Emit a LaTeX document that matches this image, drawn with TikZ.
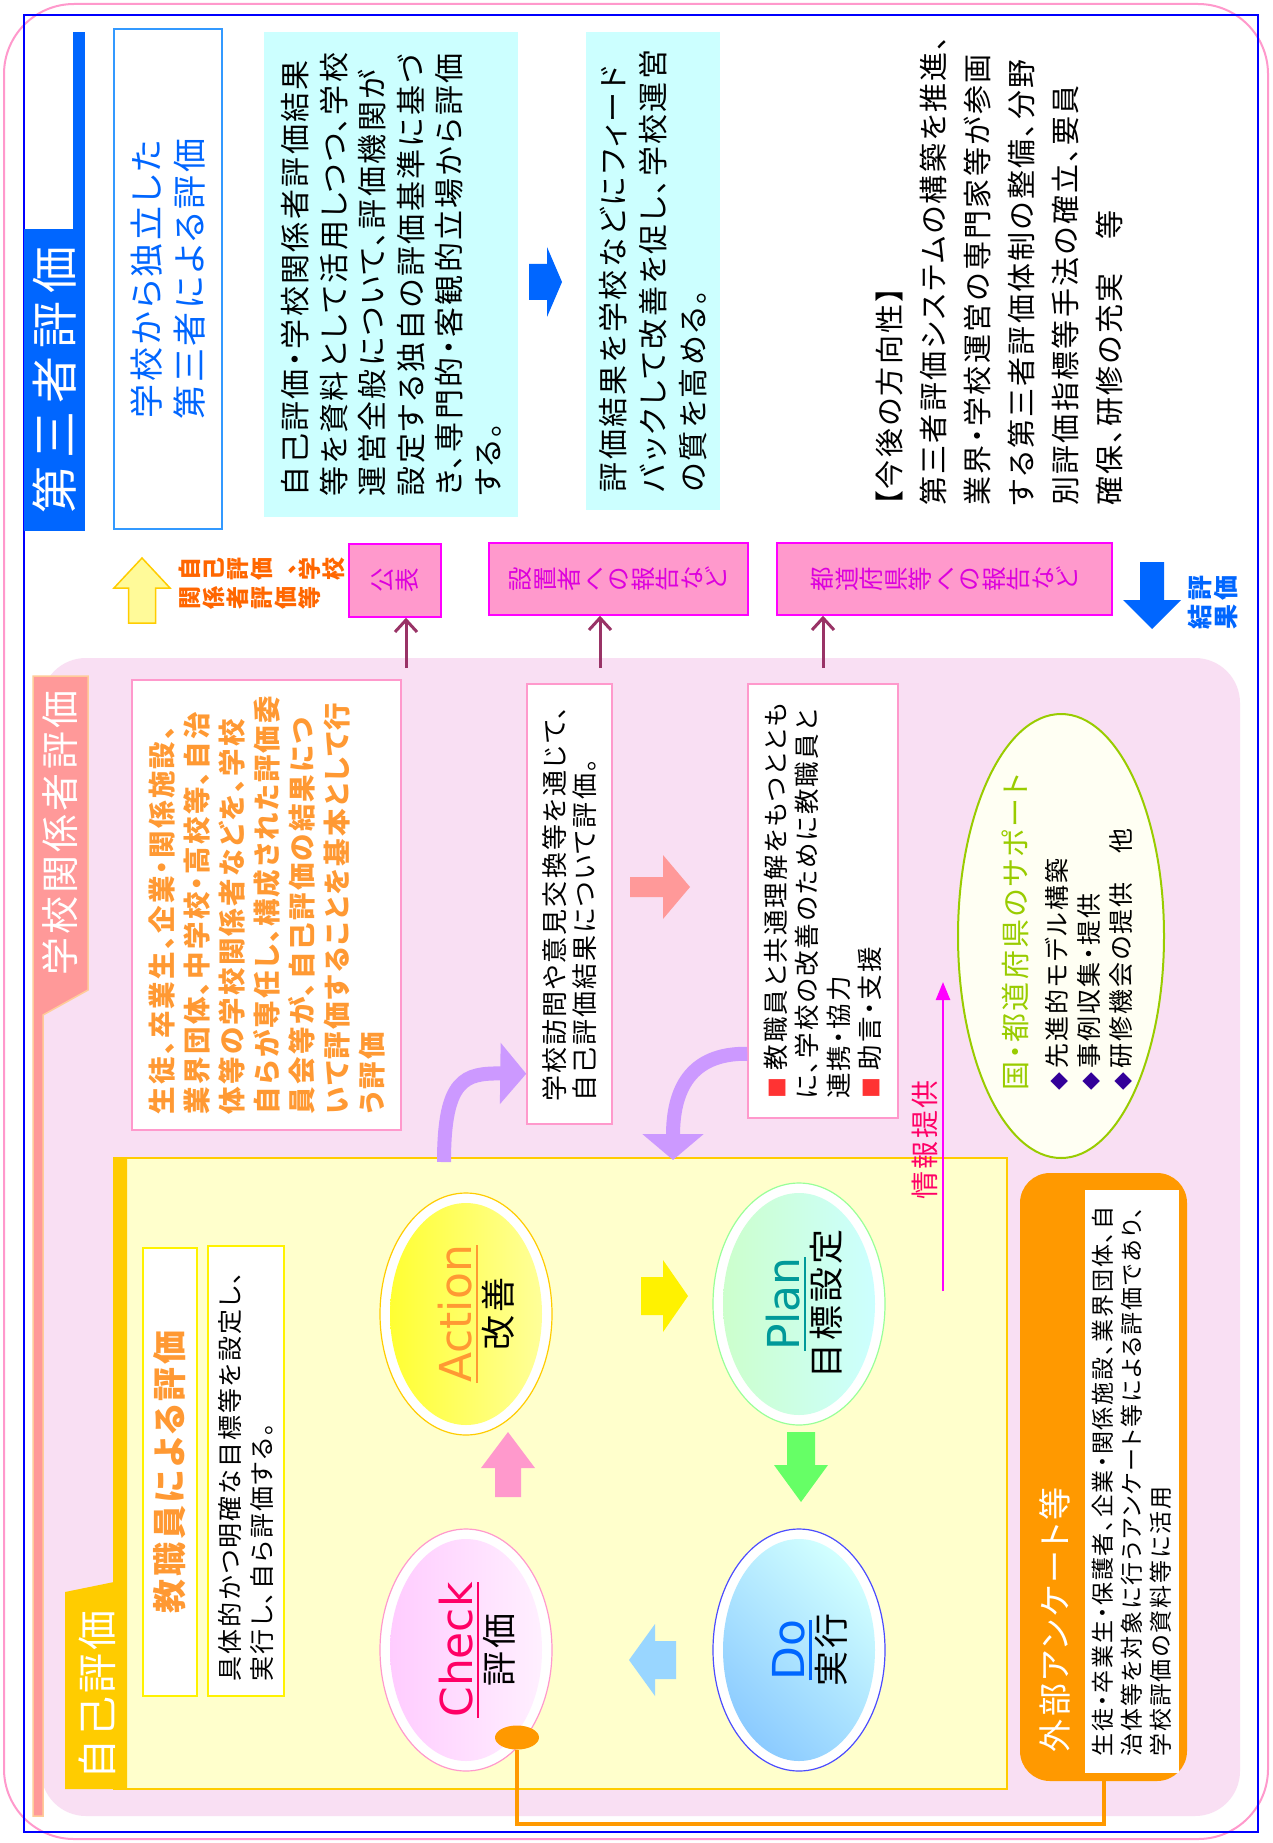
\documentclass[tikz,border=0pt]{standalone}
\usepackage{fontspec}
\setmainfont{Noto Sans CJK JP}[RawFeature=+palt,LetterSpace=8]
\newfontfamily\latinfont{DejaVu Sans}
\usetikzlibrary{shapes.geometric,arrows.meta}

\definecolor{thirdblue}{HTML}{0066FF}
\definecolor{boxblue}{HTML}{3399FF}
\definecolor{cyanfill}{HTML}{CCFFFF}
\definecolor{pubpink}{HTML}{FF99CC}
\definecolor{pubmag}{HTML}{FF00FF}
\definecolor{pubtext}{HTML}{DD00DD}
\definecolor{plum}{HTML}{993366}
\definecolor{zonepink}{HTML}{F9DFF3}
\definecolor{tabsalmon}{HTML}{FF9999}
\definecolor{tabedge}{HTML}{FFCC99}
\definecolor{orangetext}{HTML}{FF9933}
\definecolor{selfyellow}{HTML}{FFFFCC}
\definecolor{gold}{HTML}{FFCC00}
\definecolor{lavender}{HTML}{CC99FF}
\definecolor{supportgreen}{HTML}{99CC00}
\definecolor{ivory}{HTML}{FFFFF3}
\definecolor{deepviolet}{HTML}{330099}
\definecolor{infomag}{HTML}{FF0066}
\definecolor{survey}{HTML}{FF9900}
\definecolor{labelorange}{HTML}{FF6600}
\definecolor{bulletred}{HTML}{FF3333}
\definecolor{actc}{HTML}{FF9933}
\definecolor{planc}{HTML}{009999}
\definecolor{checkc}{HTML}{FF0066}
\definecolor{doc}{HTML}{0066FF}

\newcommand\fsz[2]{\fontsize{#1}{#2}\selectfont}
\newcommand\ulword[1]{\vtop{\hbox{#1}\kern4pt\hrule height 2.5pt}}
\newcommand\gem{{\color{deepviolet}\fsz{18}{18}◆}\hspace{4pt}}
\newcommand\redmark{{\color{bulletred}\fsz{21}{21}■}}
\ExplSyntaxOn
\NewDocumentCommand \tatebox {m}
  { \vtop { \tl_map_inline:nn {#1} { \hbox_to_wd:nn {1em} { \hss ##1 \hss } } } }
\ExplSyntaxOff

\begin{document}
\begin{tikzpicture}[x=1pt, y=-1pt,
  cyanbox/.style={fill=cyanfill, rotate=90, align=left, inner sep=0pt},
  pubbox/.style={fill=pubpink, draw=pubmag, line width=1.5pt, rotate=90, inner sep=0pt, text=pubtext, font=\fsz{24.5}{24.5}},
  zonebox/.style={fill=white, draw=pubpink, line width=1.5pt, rotate=90, align=left, inner sep=0pt},
  plumarrow/.style={draw=plum, line width=3pt, -{Straight Barb[length=12pt,width=22pt]}},
  lavarrow/.style={draw=lavender, line width=14pt, -{Triangle[length=26pt,width=60pt]}},
  pdcaring/.style={ellipse, fill=white, line width=1.2pt, minimum width=172pt, minimum height=242pt, inner sep=0pt},
  pdcatext/.style={rotate=90, align=center, inner sep=0pt, font=\fsz{35}{40}},
  sidetext/.style={rotate=90, inner sep=0pt, text=white}
]
\useasboundingbox (0,0) rectangle (1272,1843);
\fill[white] (0,0) rectangle (1272,1843);
\draw[pubpink, line width=2pt, rounded corners=70pt] (4,4) rectangle (1268,1839);
\draw[blue, line width=2pt] (24,15) rectangle (1258,1832);

% third party evaluation
\fill[thirdblue] (73,32) rectangle (85,229);
\node[fill=thirdblue, sidetext, minimum width=302pt, minimum height=61pt, font=\fsz{47}{47}\addfontfeature{LetterSpace=17}] (thirdtitle) at (54.5,380) {第三者評価};
\node[fill=white, draw=boxblue, line width=1.5pt, rotate=90, minimum width=500pt, minimum height=108pt, align=center, text=thirdblue, font=\fsz{34}{43.5}] (indep) at (168,279) {学校から独立した\\第三者による評価};
\node[cyanbox, minimum width=485pt, minimum height=254pt, font=\fsz{30}{38.5}] (thirdwork) at (391,274.5) {自己評価・学校関係者評価結果\\等を資料として活用しつつ、学校\\運営全般について、評価機関が\\設定する独自の評価基準に基づ\\き、専門的・客観的立場から評価\\する。};
\fill[thirdblue] (529,264) -- (547,264) -- (547,247) -- (562,282) -- (547,317) -- (547,300) -- (529,300) -- cycle;
\node[cyanbox, minimum width=478pt, minimum height=134pt, font=\fsz{30}{40}] (feedback) at (653,271) {評価結果を学校などにフィード\\バックして改善を促し、学校運営\\の質を高める。};
\node[rotate=90, anchor=north west, align=left, inner sep=0pt, font=\fsz{29}{44}] (future) at (876,506) {【今後の方向性】\\第三者評価システムの構築を推進、\\業界・学校運営の専門家等が参画\\する第三者評価体制の整備、分野\\別評価指標等手法の確立、要員\\確保、研修の充実　等};

% reports
\fill[fill=yellow!40, draw=gold, line width=1.5pt] (128.5,623) -- (128.5,588) -- (114,588) -- (142,558) -- (170,588) -- (155.5,588) -- (155.5,623) -- cycle;
\node[rotate=90, inner sep=0pt, text=labelorange, font=\bfseries\fsz{23}{24}] (publiclabel) at (262,583) {\tatebox{関係者評価等}\hspace{6pt}\tatebox{自己評価、学校}};
\node[pubbox, minimum width=73pt, minimum height=92pt] (koho) at (395,580.5) {\tatebox{公表}};
\node[pubbox, minimum width=72pt, minimum height=259pt] (setti) at (618.5,579) {\tatebox{設置者への報告など}};
\node[pubbox, minimum width=72pt, minimum height=335pt] (todo) at (944.5,579) {\tatebox{都道府県等への報告など}};
\fill[thirdblue] (1140,562) -- (1164,562) -- (1164,600) -- (1181,600) -- (1152,629) -- (1123,600) -- (1140,600) -- cycle;
\node[rotate=90, inner sep=0pt, text=thirdblue, font=\bfseries\fsz{25}{26}] (resultlabel) at (1213,602) {\tatebox{結果}\hspace{4pt}\tatebox{評価}};

% school stakeholders evaluation
\node[fill=zonepink, rounded corners=45pt, minimum width=1199pt, minimum height=1158pt, inner sep=0pt] (kankeizone) at (640.5,1237) {};
\fill[tabsalmon, draw=tabedge, line width=1.5pt] (33,676) -- (88,676) -- (88,990) -- (43,1015) -- (43,1816) -- (33,1816) -- cycle;
\node[sidetext, font=\fsz{38}{38}] (kankeititle) at (60,833) {学校関係者評価};
\draw[plumarrow] (406,668) -- (406,0 |- koho.west);
\draw[plumarrow] (600,668) -- (600,0 |- setti.west);
\draw[plumarrow] (823,668) -- (823,0 |- todo.west);
\node[zonebox, minimum width=450pt, minimum height=269pt, text=orangetext, font=\bfseries\fsz{27.5}{35}] (kankeitext) at (266.5,905) {生徒、卒業生、企業・関係施設、\\業界団体、中学校・高校等、自治\\体等の学校関係者などを、学校\\自らが専任し、構成された評価委\\員会等が、自己評価の結果につ\\いて評価することを基本として行\\う評価};
\node[zonebox, minimum width=440pt, minimum height=85pt, font=\fsz{26}{30}] (visit) at (569.5,904) {学校訪問や意見交換等を通じて、\\自己評価結果について評価。};
\fill[tabsalmon] (630,877) -- (663,877) -- (663,855) -- (690,887) -- (663,919) -- (663,897) -- (630,897) -- cycle;
\node[zonebox, minimum width=434pt, minimum height=150pt, font=\fsz{25.5}{31.5}] (teach) at (823,901) {\redmark\ 教職員と共通理解をもつととも\\に、学校の改善のために教職員と\\連携・協力\\\redmark\ 助言・支援};
\node[ellipse, draw=supportgreen, line width=2pt, fill=ivory, minimum width=206pt, minimum height=444pt] (support) at (1061,936) {};
\node[rotate=90, align=left, inner sep=0pt, font=\fsz{25}{32}] (supporttext) at (1067,932) {{\color{supportgreen}\fsz{29}{32}国・都道府県のサポート}\\[8pt]\gem 先進的モデル構築\\\gem 事例収集・提供\\\gem 研修機会の提供　他};

% self evaluation
\node[draw=gold, line width=2pt, fill=selfyellow, minimum width=893pt, minimum height=631pt, inner sep=0pt] (selfzone) at (560.5,1473.5) {};
\fill[gold] (114,1158) -- (127,1158) -- (127,1789) -- (65,1789) -- (65,1592) -- (114,1582) -- cycle;
\node[sidetext, font=\fsz{40}{40}] (selftitle) at (97,1695) {自己評価};
\node[fill=white, draw=yellow, line width=1.5pt, rotate=90, minimum width=448pt, minimum height=54pt, text=orangetext, font=\bfseries\fsz{34}{34}] (staff) at (170,1472) {教職員による評価};
\node[fill=white, draw=yellow, line width=1.5pt, rotate=90, minimum width=450pt, minimum height=76pt, text width=420pt, align=left, font=\fsz{25}{32}] (concrete) at (246,1471) {具体的かつ明確な目標等を設定し、\\実行し、自ら評価する。};

% PDCA
\node[pdcaring, draw=gold] (action) at (466,1314) {};
\shade[left color=yellow!80, right color=yellow!40] (466,1314) ellipse [x radius=76, y radius=111];
\node[pdcatext] (actiontext) at (476,1314) {{\latinfont\fsz{44}{44}\color{actc}\ulword{Action}}\\改善};
\node[pdcaring, draw=green!40] (plan) at (799,1304) {};
\shade[left color=green!20, right color=cyan!20] (799,1304) ellipse [x radius=76, y radius=111];
\node[pdcatext] (plantext) at (804,1304) {{\latinfont\fsz{44}{44}\color{planc}\ulword{Plan}}\\目標設定};
\node[pdcaring, draw=pubpink] (check) at (466,1650) {};
\shade[left color=magenta!20, right color=magenta!6] (466,1650) ellipse [x radius=76, y radius=111];
\node[pdcatext] (checktext) at (477,1650) {{\latinfont\fsz{44}{44}\color{checkc}\ulword{Check}}\\評価};
\node[pdcaring, draw=blue!70] (do) at (799,1650) {};
\shade[bottom color=cyan!55!blue!45, top color=cyan!18, shading angle=-45] (799,1650) ellipse [x radius=76, y radius=111];
\node[pdcatext] (dotext) at (810,1650) {{\latinfont\fsz{44}{44}\color{doc}\ulword{Do}}\\実行};
\fill[yellow] (641,1277) -- (663,1277) -- (663,1260) -- (688,1296) -- (663,1332) -- (663,1315) -- (641,1315) -- cycle;
\fill[green!60] (787,1432) -- (815,1432) -- (815,1465) -- (828,1465) -- (801,1502) -- (774,1465) -- (787,1465) -- cycle;
\fill[blue!40!cyan!40] (676,1641) -- (655,1641) -- (655,1624) -- (629,1660) -- (655,1696) -- (655,1679) -- (676,1679) -- cycle;
\fill[pubpink] (495,1497) -- (495,1468) -- (481,1468) -- (508,1432) -- (535,1468) -- (521,1468) -- (521,1497) -- cycle;

% links
\coordinate (actionout) at (444,1162);
\coordinate (planin) at (673,1160);
\draw[lavarrow] (actionout) .. controls (444,1078) and (465,1073) .. ([yshift=51pt]visit.north west);
\draw[lavarrow] ([yshift=65pt]teach.north west) .. controls (690,1053) and (673,1090) .. (planin);
\coordinate (infofoot) at (943,1291);
\coordinate (infotip) at (943,982);
\draw[pubmag, line width=2.5pt, -{Triangle[length=18pt,width=14pt]}] (infofoot) -- (infotip);
\node[rotate=90, inner sep=0pt, text=infomag, font=\fsz{28}{28}] (infolabel) at (925,1140) {情報提供};

% external survey
\node[fill=survey, rounded corners=30pt, minimum width=167pt, minimum height=608pt, inner sep=0pt] (survey) at (1103.5,1477) {};
\node[sidetext, font=\fsz{33}{33}] (surveytitle) at (1055,1620) {外部アンケート等};
\node[fill=white, rotate=90, minimum width=583pt, minimum height=94pt, align=left, inner sep=0pt, font=\fsz{23}{29}] (surveytext) at (1132,1481.5) {生徒・卒業生・保護者、企業・関係施設、業界団体、自\\治体等を対象に行うアンケート等による評価であり、\\学校評価の資料等に活用};
\node[ellipse, fill=survey, minimum width=44pt, minimum height=24pt, inner sep=0pt] (checkdot) at (517,1737.5) {};
\draw[survey, line width=4pt] (checkdot.south) -- ++(0,74) -| (survey.south);
\end{tikzpicture}
\end{document}
